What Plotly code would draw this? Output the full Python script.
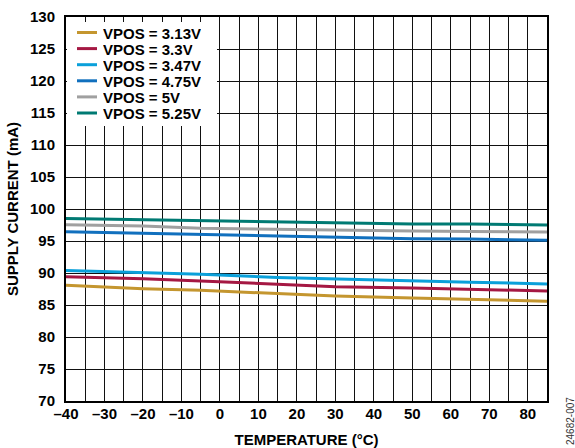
import plotly.graph_objects as go

# Temperature sweep (°C) and measured supply current (mA) per VPOS setting
temperature = [-40, -20, -5, 15, 30, 50, 65, 85]
i_vpos_313 = [88.1, 87.55, 87.3, 86.8, 86.4, 86.1, 85.9, 85.6]
i_vpos_330 = [89.4, 89.1, 88.75, 88.3, 87.85, 87.65, 87.45, 87.2]
i_vpos_347 = [90.4, 90.1, 89.8, 89.3, 89.05, 88.8, 88.55, 88.3]
i_vpos_475 = [96.45, 96.2, 96.0, 95.7, 95.6, 95.35, 95.3, 95.1]
i_vpos_500 = [97.55, 97.35, 97.0, 96.8, 96.65, 96.55, 96.5, 96.4]
i_vpos_525 = [98.5, 98.3, 98.1, 97.9, 97.75, 97.65, 97.65, 97.5]

series_names = ["VPOS = 3.13V", "VPOS = 3.3V", "VPOS = 3.47V",
                "VPOS = 4.75V", "VPOS = 5V", "VPOS = 5.25V"]
series_values = [i_vpos_313, i_vpos_330, i_vpos_347,
                 i_vpos_475, i_vpos_500, i_vpos_525]
series_colors = ["#C4962F", "#A51843", "#0AA0DA", "#1170BE", "#A0A0A0", "#007A73"]

# Axis ticks: grid every 5 units, labels every 10 °C on x
x_tickvals = list(range(-40, 90, 5))
x_ticktext = [(f"\u2013{abs(v)}" if v < 0 else str(v)) if v % 10 == 0 and v <= 80 else ""
              for v in x_tickvals]
y_tickvals = list(range(70, 135, 5))
y_ticktext = [str(v) for v in y_tickvals]

FONT = "Liberation Sans, Arial, sans-serif"
W, H = 575, 448
ML, MR, MT, MB = 66, 28, 17, 47
PW, PH = W - ML - MR, H - MT - MB


def px_x(x):
    """Pixel column -> paper x."""
    return (x - ML) / PW


def px_y(y):
    """Pixel row -> paper y."""
    return (H - MB - y) / PH


fig = go.Figure()
for name, vals, color in zip(series_names, series_values, series_colors):
    fig.add_trace(go.Scatter(
        x=temperature, y=vals, name=name, mode="lines",
        line=dict(color=color, width=3),
        showlegend=False,
    ))

axis_common = dict(
    showline=True, linecolor="black", linewidth=2, mirror=True,
    showgrid=True, gridcolor="#111111", gridwidth=1.2,
    zeroline=False, ticks="", automargin=False,
    tickfont=dict(family=FONT, size=15, color="black", weight="bold"),
)

# Key box in the upper-left corner of the plot: white panel, colour swatches, labels
shapes = [dict(type="rect", xref="paper", yref="paper",
               x0=px_x(ML + 1), x1=px_x(217), y0=px_y(126), y1=px_y(22),
               fillcolor="white", line=dict(width=0), layer="above")]
annotations = []
row0, row_step = 32.5, 16.1
for k, (name, color) in enumerate(zip(series_names, series_colors)):
    yr = row0 + k * row_step
    shapes.append(dict(type="line", xref="paper", yref="paper",
                       x0=px_x(77), x1=px_x(97), y0=px_y(yr), y1=px_y(yr),
                       line=dict(color=color, width=3), layer="above"))
    annotations.append(dict(
        text=f"<b>{name}</b>", xref="paper", yref="paper",
        x=px_x(102), y=px_y(yr), xanchor="left", yanchor="middle",
        height=16, valign="middle", borderpad=0,
        showarrow=False, font=dict(family=FONT, size=15, color="black"),
    ))

annotations.append(dict(
    text="24682-007", xref="paper", yref="paper", x=px_x(570), y=px_y(421),
    showarrow=False, textangle=-90, xanchor="center", yanchor="middle",
    font=dict(family=FONT, size=10, color="#333333"),
))

fig.update_layout(
    width=W, height=H,
    margin=dict(l=ML, r=MR, t=MT, b=MB),
    paper_bgcolor="white", plot_bgcolor="white",
    font=dict(family=FONT, color="black"),
    xaxis=dict(
        range=[-40, 85], tickmode="array", tickvals=x_tickvals, ticktext=x_ticktext,
        ticklabelstandoff=-2,
        title=dict(text="<b>TEMPERATURE (°C)</b>", standoff=14,
                   font=dict(family=FONT, size=15, color="black")),
        **axis_common,
    ),
    yaxis=dict(
        range=[70, 130], tickmode="array", tickvals=y_tickvals, ticktext=y_ticktext,
        ticklabelstandoff=6,
        title=dict(text="<b>SUPPLY CURRENT (mA)</b>", standoff=8,
                   font=dict(family=FONT, size=15, color="black")),
        **axis_common,
    ),
    showlegend=False,
    shapes=shapes,
    annotations=annotations,
)

fig.write_html("out.html")
